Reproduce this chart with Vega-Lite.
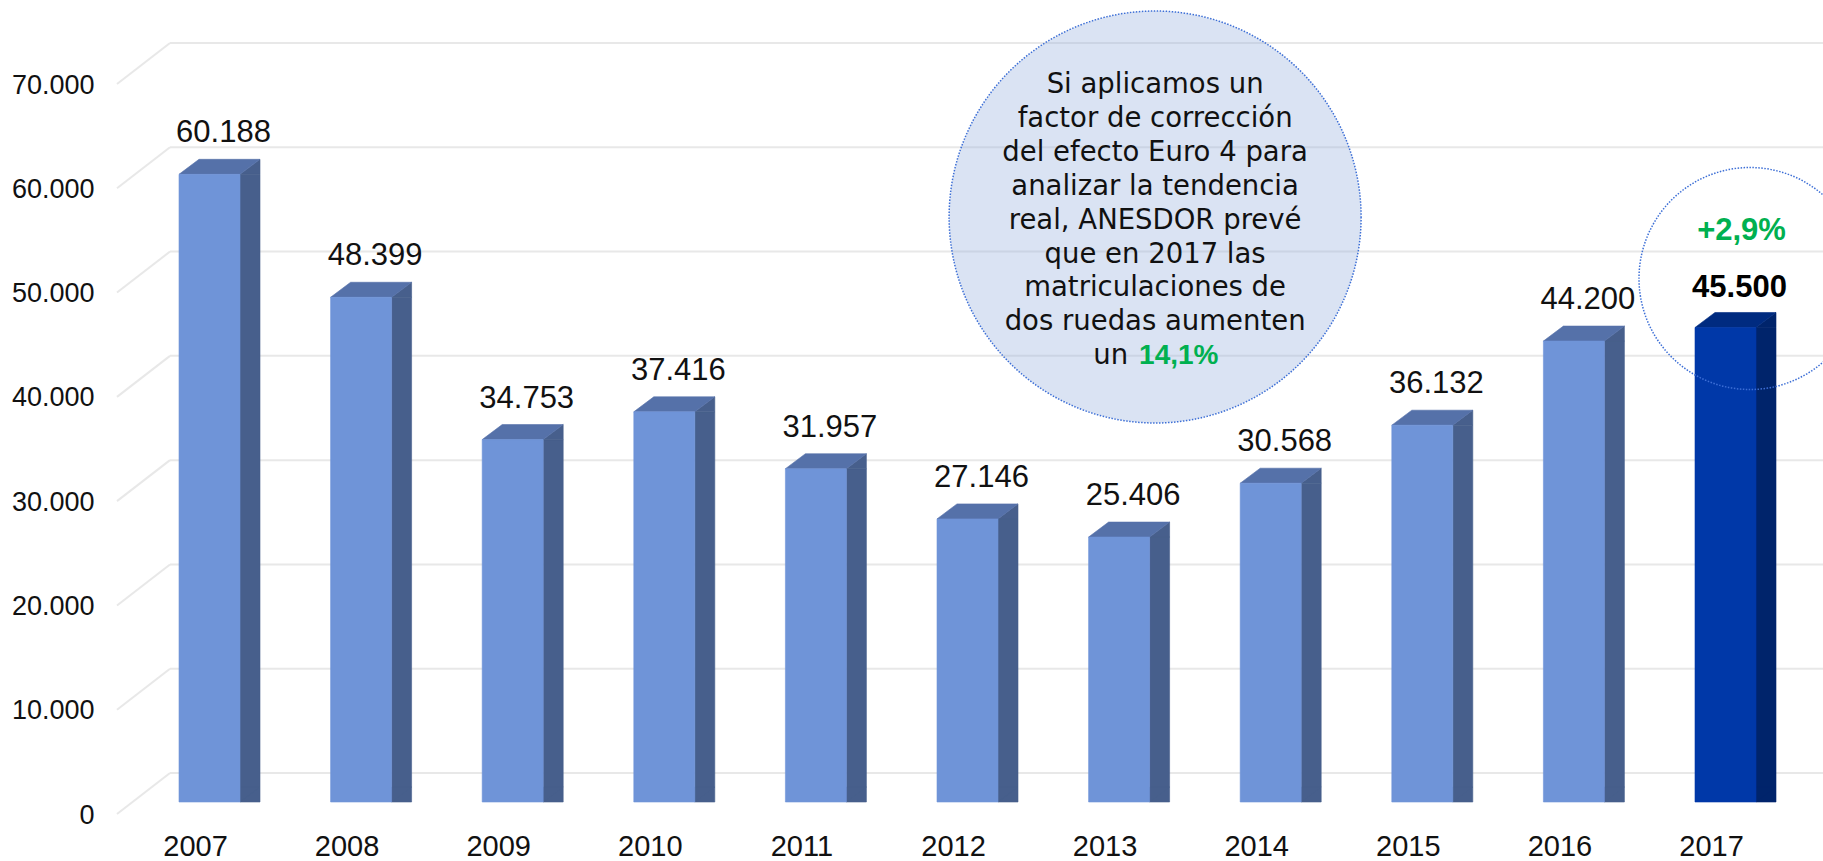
{
  "$schema": "https://vega.github.io/schema/vega-lite/v6.json",
  "width": 1667.6,
  "height": 730,
  "autosize": {"type": "none"},
  "padding": {"left": 133.7, "top": 72, "right": 21.7, "bottom": 59},
  "background": "white",
  "config": {
    "view": {"stroke": null},
    "locale": {"number": {"decimal": ",", "thousands": ".", "grouping": [3], "currency": ["", " €"]}}
  },
  "datasets": {
    "reg": [
      {"year": "2007", "value": 60188},
      {"year": "2008", "value": 48399},
      {"year": "2009", "value": 34753},
      {"year": "2010", "value": 37416},
      {"year": "2011", "value": 31957},
      {"year": "2012", "value": 27146},
      {"year": "2013", "value": 25406},
      {"year": "2014", "value": 30568},
      {"year": "2015", "value": 36132},
      {"year": "2016", "value": 44200},
      {"year": "2017", "value": 45500, "var": "+2,9%"}
    ],
    "grid": [
      {"g": 0}, {"g": 10000}, {"g": 20000}, {"g": 30000},
      {"g": 40000}, {"g": 50000}, {"g": 60000}, {"g": 70000}
    ]
  },
  "data": {"name": "reg"},
  "encoding": {
    "x": {
      "field": "year", "type": "nominal", "title": null,
      "scale": {"type": "band", "paddingInner": 0, "paddingOuter": 0},
      "axis": {"labelAngle": 0, "labelFont": "Liberation Sans", "labelFontSize": 29, "labelColor": "#111111", "labelPadding": 30, "labelOffset": -14, "domain": false, "ticks": false, "tickSize": 0, "grid": false}
    },
    "y": {
      "field": "value", "type": "quantitative", "title": null, "stack": null,
      "scale": {"domain": [0, 70000], "nice": false, "zero": true},
      "axis": {"values": [0, 10000, 20000, 30000, 40000, 50000, 60000, 70000], "format": ",d", "labelFont": "Liberation Sans", "labelFontSize": 27, "labelColor": "#111111", "labelPadding": 39.7, "labelOffset": 13, "domain": false, "ticks": false, "tickSize": 0, "grid": false}
    }
  },
  "layer": [
    {
      "data": {"name": "grid"},
      "mark": {"type": "rule", "color": "#e8e8e8", "strokeWidth": 2, "yOffset": 12, "y2Offset": -29, "xOffset": -92.5, "x2Offset": -39.5},
      "encoding": {
        "x": {"datum": "2007"}, "x2": {"datum": "2007"},
        "y": {"field": "g", "type": "quantitative", "title": null}, "y2": {"field": "g"}
      }
    },
    {
      "data": {"name": "grid"},
      "mark": {"type": "rule", "color": "#e8e8e8", "strokeWidth": 2, "yOffset": -29, "xOffset": -39.5, "x2Offset": 97.5},
      "encoding": {
        "x": {"datum": "2007"}, "x2": {"datum": "2017"},
        "y": {"field": "g", "type": "quantitative", "title": null}
      }
    },
    {
      "transform": [{"filter": "datum.year === '2013'"}],
      "mark": {"type": "point", "shape": "circle", "size": 169744, "filled": true, "fill": "#98b1de", "fillOpacity": 0.36, "stroke": "#3d6fd6", "strokeWidth": 1.5, "strokeDash": [1.5, 1.5], "strokeOpacity": 1, "opacity": 1, "xOffset": 36, "yOffset": -1},
      "encoding": {"y": {"datum": 56000, "title": null}}
    },
    {
      "transform": [{"filter": "datum.year === '2013'"}],
      "mark": {"type": "text", "text": ["Si aplicamos un", "factor de corrección", "del efecto Euro 4 para", "analizar la tendencia", "real, ANESDOR prevé", "que en 2017 las", "matriculaciones de", "dos ruedas aumenten"], "font": "DejaVu Sans", "fontSize": 27.5, "color": "#111111", "align": "center", "baseline": "alphabetic", "lineHeight": 33.9, "xOffset": 36, "yOffset": -125},
      "encoding": {"y": {"datum": 56000, "title": null}}
    },
    {
      "transform": [{"filter": "datum.year === '2013'"}],
      "mark": {"type": "text", "text": "un", "font": "DejaVu Sans", "fontSize": 27.5, "color": "#111111", "align": "right", "baseline": "alphabetic", "xOffset": 9, "yOffset": 146},
      "encoding": {"y": {"datum": 56000, "title": null}}
    },
    {
      "transform": [{"filter": "datum.year === '2013'"}],
      "mark": {"type": "text", "text": "14,1%", "font": "Liberation Sans", "fontWeight": "bold", "fontSize": 28, "color": "#00b050", "align": "left", "baseline": "alphabetic", "xOffset": 20, "yOffset": 146},
      "encoding": {"y": {"datum": 56000, "title": null}}
    },
    {
      "mark": {"type": "bar", "width": 20, "xOffset": 40.5, "y2Offset": -15, "strokeWidth": 0.6},
      "encoding": {
        "color": {"condition": {"test": "datum.year === '2017'", "value": "#00246b"}, "value": "#475f8c"},
        "stroke": {"condition": {"test": "datum.year === '2017'", "value": "#00246b"}, "value": "#475f8c"}
      }
    },
    {
      "mark": {"type": "point", "shape": "M -1 0.75 L 1 -0.75 L 1 0.75 Z", "size": 400, "filled": true, "opacity": 1, "strokeWidth": 0.6, "xOffset": 40.5, "yOffset": -7.5},
      "encoding": {
        "color": {"condition": {"test": "datum.year === '2017'", "value": "#00246b"}, "value": "#475f8c"},
        "stroke": {"condition": {"test": "datum.year === '2017'", "value": "#00246b"}, "value": "#475f8c"}
      }
    },
    {
      "mark": {"type": "point", "shape": "M -1 -0.75 L 1 -0.75 L -1 0.75 Z", "size": 400, "filled": true, "opacity": 1, "strokeWidth": 0.6, "xOffset": 40.5, "yOffset": -7.5},
      "encoding": {
        "y": {"datum": 0, "title": null},
        "color": {"condition": {"test": "datum.year === '2017'", "value": "#00246b"}, "value": "#475f8c"},
        "stroke": {"condition": {"test": "datum.year === '2017'", "value": "#00246b"}, "value": "#475f8c"}
      }
    },
    {
      "mark": {"type": "point", "shape": "M -1 0.1852 L 0.5062 0.1852 L 1 -0.1852 L -0.5062 -0.1852 Z", "size": 6561, "filled": true, "opacity": 1, "strokeWidth": 0.6, "xOffset": 10, "yOffset": -7.5},
      "encoding": {
        "color": {"condition": {"test": "datum.year === '2017'", "value": "#002b80"}, "value": "#5571a9"},
        "stroke": {"condition": {"test": "datum.year === '2017'", "value": "#002b80"}, "value": "#5571a9"}
      }
    },
    {
      "mark": {"type": "bar", "width": 61, "strokeWidth": 0.6},
      "encoding": {
        "color": {"condition": {"test": "datum.year === '2017'", "value": "#0038a8"}, "value": "#6f94d8"},
        "stroke": {"condition": {"test": "datum.year === '2017'", "value": "#0038a8"}, "value": "#6f94d8"}
      }
    },
    {
      "transform": [{"filter": "datum.year !== '2017'"}],
      "mark": {"type": "text", "font": "Liberation Sans", "fontSize": 31, "color": "#111111", "align": "center", "baseline": "alphabetic", "xOffset": 14, "yOffset": -32},
      "encoding": {"text": {"field": "value", "type": "quantitative", "format": ",d"}}
    },
    {
      "transform": [{"filter": "datum.year === '2017'"}],
      "mark": {"type": "text", "font": "Liberation Sans", "fontWeight": "bold", "fontSize": 31, "color": "#000000", "align": "center", "baseline": "alphabetic", "xOffset": 14, "yOffset": -31},
      "encoding": {"text": {"field": "value", "type": "quantitative", "format": ",d"}}
    },
    {
      "transform": [{"filter": "datum.year === '2017'"}],
      "mark": {"type": "text", "font": "Liberation Sans", "fontWeight": "bold", "fontSize": 31, "color": "#00b050", "align": "center", "baseline": "alphabetic", "xOffset": 16, "yOffset": -88},
      "encoding": {"text": {"field": "var"}}
    },
    {
      "transform": [{"filter": "datum.year === '2017'"}],
      "mark": {"type": "point", "shape": "circle", "size": 49284, "filled": false, "fill": null, "stroke": "#3d6fd6", "strokeWidth": 1.5, "strokeDash": [1.5, 1.5], "opacity": 1, "xOffset": 24.5, "yOffset": -49},
      "encoding": {}
    }
  ]
}
